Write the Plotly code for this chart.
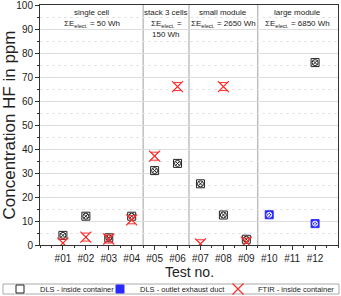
import plotly.graph_objects as go

tests = list(range(1, 13))
tick_labels = ["#%02d" % i for i in tests]

dls_in_x = [1, 2, 3, 4, 5, 6, 7, 8, 9, 12]
dls_in_y = [4, 12, 3, 12, 31, 34, 25.5, 12.5, 2.4, 76]

dls_out_x = [10, 12]
dls_out_y = [12.6, 8.9]

ftir_x = [1, 2, 3, 4, 5, 6, 7, 8, 9]
ftir_y = [0.8, 3.3, 2.5, 10.5, 37, 66, 0.5, 66, 1.2]

sections = [
    (2.25, ["single cell", "ΣE<sub>elect.</sub> = 50 Wh"]),
    (5.5, ["stack 3 cells", "ΣE<sub>elect.</sub> =", "150 Wh"]),
    (8.0, ["small module", "ΣE<sub>elect.</sub> = 2650 Wh"]),
    (11.25, ["large module", "ΣE<sub>elect.</sub> = 6850 Wh"]),
]
separators = [4.5, 6.5, 9.5]

RED = "#ff2a2a"
BLK = "#222222"
BLUE = "#2a2aff"
W, H = 341, 296
L, R, T, B = 40, 3, 5, 51
PH = H - T - B
PW = W - L - R

fig = go.Figure()

# DLS inside
fig.add_trace(go.Scatter(x=dls_in_x, y=dls_in_y, mode="markers", name="DLS - inside container",
                         legend="legend",
                         marker=dict(symbol="square-open", size=8, color=BLK,
                                     line=dict(color=BLK, width=1))))
fig.add_trace(go.Scatter(x=dls_in_x, y=dls_in_y, mode="markers", showlegend=False, hoverinfo="skip",
                         marker=dict(symbol="circle-x-open", size=6, color=BLK,
                                     line=dict(color=BLK, width=1))))

# DLS outlet
fig.add_trace(go.Scatter(x=dls_out_x, y=dls_out_y, mode="markers", name="DLS - outlet exhaust duct",
                         legend="legend2",
                         marker=dict(symbol="square", size=8, color=BLUE,
                                     line=dict(color=BLUE, width=1))))
fig.add_trace(go.Scatter(x=dls_out_x, y=dls_out_y, mode="markers", showlegend=False, hoverinfo="skip",
                         marker=dict(symbol="circle-x-open", size=5, color="white",
                                     line=dict(color="white", width=1))))

# FTIR
fig.add_trace(go.Scatter(x=ftir_x, y=ftir_y, mode="markers", name="FTIR - inside container",
                         legend="legend3",
                         marker=dict(symbol="x-thin-open", size=11, color=RED,
                                     line=dict(color=RED, width=1.2))))
fig.add_trace(go.Scatter(x=ftir_x, y=ftir_y, mode="markers", showlegend=False, hoverinfo="skip",
                         marker=dict(symbol="hourglass-open", size=8, color=RED,
                                     line=dict(color=RED, width=1))))

for s in separators:
    fig.add_shape(type="line", xref="x", yref="paper", x0=s, x1=s, y0=0, y1=1,
                  line=dict(color="#b0b0b0", width=1.2), layer="below")

def px_x(p):
    return (p - L) / PW

def px_y(p):
    return (H - B - p) / PH

# legend frame
fig.add_shape(type="rect", xref="paper", yref="paper", x0=px_x(3), x1=px_x(339),
              y0=px_y(294), y1=px_y(284),
              line=dict(color="#aaaaaa", width=1), fillcolor="rgba(0,0,0,0)")

for xc, lines in sections:
    for i, t in enumerate(lines):
        fig.add_annotation(x=xc, xref="x", y=99.5 - i * 4.6, yref="y", text=t,
                           showarrow=False, yanchor="top",
                           font=dict(size=8, color=BLK))

# x axis title
fig.add_annotation(x=0.5, xref="paper", y=px_y(272), yref="paper", text="Test no.",
                   showarrow=False, yanchor="middle", font=dict(size=14, color=BLK))

def leg(px):
    return dict(orientation="h", x=px / W, xanchor="left", y=(H - 289) / H, yanchor="middle",
                xref="container", yref="container", bgcolor="rgba(0,0,0,0)",
                borderwidth=0, font=dict(size=7.5), itemwidth=30)

fig.update_layout(
    width=W, height=H,
    margin=dict(l=L, r=R, t=T, b=B, autoexpand=False),
    plot_bgcolor="white", paper_bgcolor="white",
    font=dict(family="Liberation Sans, Arial, sans-serif", color=BLK),
    showlegend=True,
    legend=leg(-14), legend2=leg(100), legend3=leg(218),
)
fig.update_xaxes(range=[0, 13], tickmode="array", tickvals=tests, ticktext=tick_labels,
                 showgrid=False, zeroline=False, showline=True, linecolor="#333333",
                 mirror=True, ticks="outside", ticklen=4, tickcolor="#333333",
                 tickfont=dict(size=10),
                 minor=dict(ticks="outside", ticklen=2, dtick=0.5, tick0=0.5, tickcolor="#333333"))
fig.update_yaxes(range=[0, 100], dtick=10, showgrid=True, gridcolor="#dddddd", gridwidth=1,
                 zeroline=False, showline=True, linecolor="#333333", mirror=True,
                 ticks="outside", ticklen=4, tickcolor="#333333", tickfont=dict(size=10),
                 ticklabeloverflow="allow",
                 minor=dict(ticks="outside", ticklen=2, dtick=5, showgrid=True,
                            gridcolor="#e6e6e6", griddash="dot", tickcolor="#333333"),
                 title=dict(text="Concentration HF in ppm", font=dict(size=17), standoff=2))

fig.write_html("out.html", config={"displayModeBar": False},
               post_script="document.body.style.margin='0';document.body.style.padding='0';")
